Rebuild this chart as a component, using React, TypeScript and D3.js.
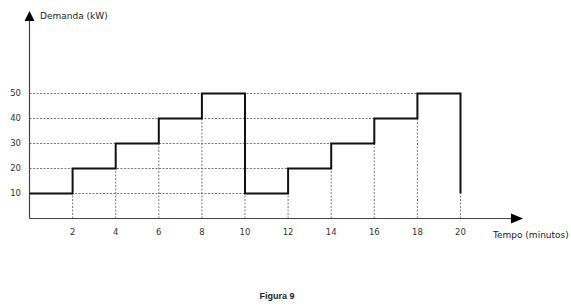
import React from "react";
import * as d3 from "d3";

const intervalStarts = [0, 2, 4, 6, 8, 10, 12, 14, 16, 18];
const demand = [10, 20, 30, 40, 50, 10, 20, 30, 40, 50];
const xTicks = [2, 4, 6, 8, 10, 12, 14, 16, 18, 20];
const yTicks = [10, 20, 30, 40, 50];
const intervalLength = 2;
const yLabel = "Demanda (kW)";
const xLabel = "Tempo (minutos)";
const caption = "Figura 9";

export default function App() {
  const W = 571, H = 308;
  const x = d3.scaleLinear().domain([0, 20]).range([29.5, 460.5]);
  const y = d3.scaleLinear().domain([0, 50]).range([218.5, 93.5]);

  // step line points
  const pts: [number, number][] = [];
  intervalStarts.forEach((s, i) => {
    pts.push([s, demand[i]]);
    pts.push([s + intervalLength, demand[i]]);
  });
  const lastEnd = intervalStarts[intervalStarts.length - 1] + intervalLength;
  pts.push([lastEnd, demand[0]]);
  const line = d3.line<[number, number]>().x(d => x(d[0])).y(d => y(d[1]));

  // horizontal dashed gridlines: extend to where the second cycle reaches level
  const half = intervalStarts.length / 2;
  const hGrid = yTicks.map(v => {
    const idx = demand.findIndex((d, i) => i >= half && d === v);
    const end = v === demand[half] ? intervalStarts[half] + intervalLength : intervalStarts[idx];
    return { v, end };
  });
  // vertical dashed gridlines: from 0 to the lower value at that tick
  const vGrid = xTicks.map(t => {
    const i = intervalStarts.indexOf(t);
    const before = demand[i - 1] !== undefined ? demand[i - 1] : demand[demand.length - 1];
    const after = i >= 0 ? demand[i] : demand[0];
    return { t, top: Math.min(before, after) };
  });

  const tickFont = "DejaVu Sans, Verdana, sans-serif";
  return (
    <svg width={W} height={H} style={{ position: "absolute", left: 0, top: 0, background: "#fff" }}>
      {hGrid.map(g => (
        <line key={"h" + g.v} x1={x(0)} x2={x(g.end)} y1={y(g.v)} y2={y(g.v)}
          stroke="#555" strokeWidth={0.8} strokeDasharray="2,1.5" />
      ))}
      {vGrid.map(g => (
        <line key={"v" + g.t} x1={x(g.t)} x2={x(g.t)} y1={y(0)} y2={y(g.top)}
          stroke="#555" strokeWidth={0.8} strokeDasharray="2,1.5" />
      ))}
      {/* axes */}
      <line x1={x(0)} x2={x(0)} y1={y(0)} y2={20} stroke="#444" strokeWidth={1.2} />
      <path d={`M${x(0) - 5},${21} L${x(0) + 5},${21} L${x(0)},${11} Z`} fill="#000" />
      <line x1={x(0)} x2={512} y1={y(0)} y2={y(0)} stroke="#444" strokeWidth={1.2} />
      <path d={`M${511},${y(0) - 5} L${511},${y(0) + 5} L${523},${y(0)} Z`} fill="#000" />
      <path d={line(pts) || ""} fill="none" stroke="#111" strokeWidth={2} />
      {yTicks.map(v => (
        <text key={"yt" + v} x={21} y={y(v)} dy="0.35em" textAnchor="end"
          fontFamily={tickFont} fontSize={8.5} fill="#333">{v}</text>
      ))}
      {xTicks.map(t => (
        <text key={"xt" + t} x={x(t)} y={232} dy="0.35em" textAnchor="middle"
          fontFamily={tickFont} fontSize={8.5} fill="#333">{t}</text>
      ))}
      <text x={40} y={16} dy="0.35em" fontFamily={tickFont} fontSize={9} fill="#222">{yLabel}</text>
      <text x={493} y={234.5} dy="0.35em" fontFamily={tickFont} fontSize={9} fill="#222">{xLabel}</text>
      <text x={277} y={296} dy="0.35em" textAnchor="middle" fontFamily="Liberation Sans, Arial, sans-serif"
        fontWeight="bold" fontSize={9} fill="#222">{caption}</text>
    </svg>
  );
}
